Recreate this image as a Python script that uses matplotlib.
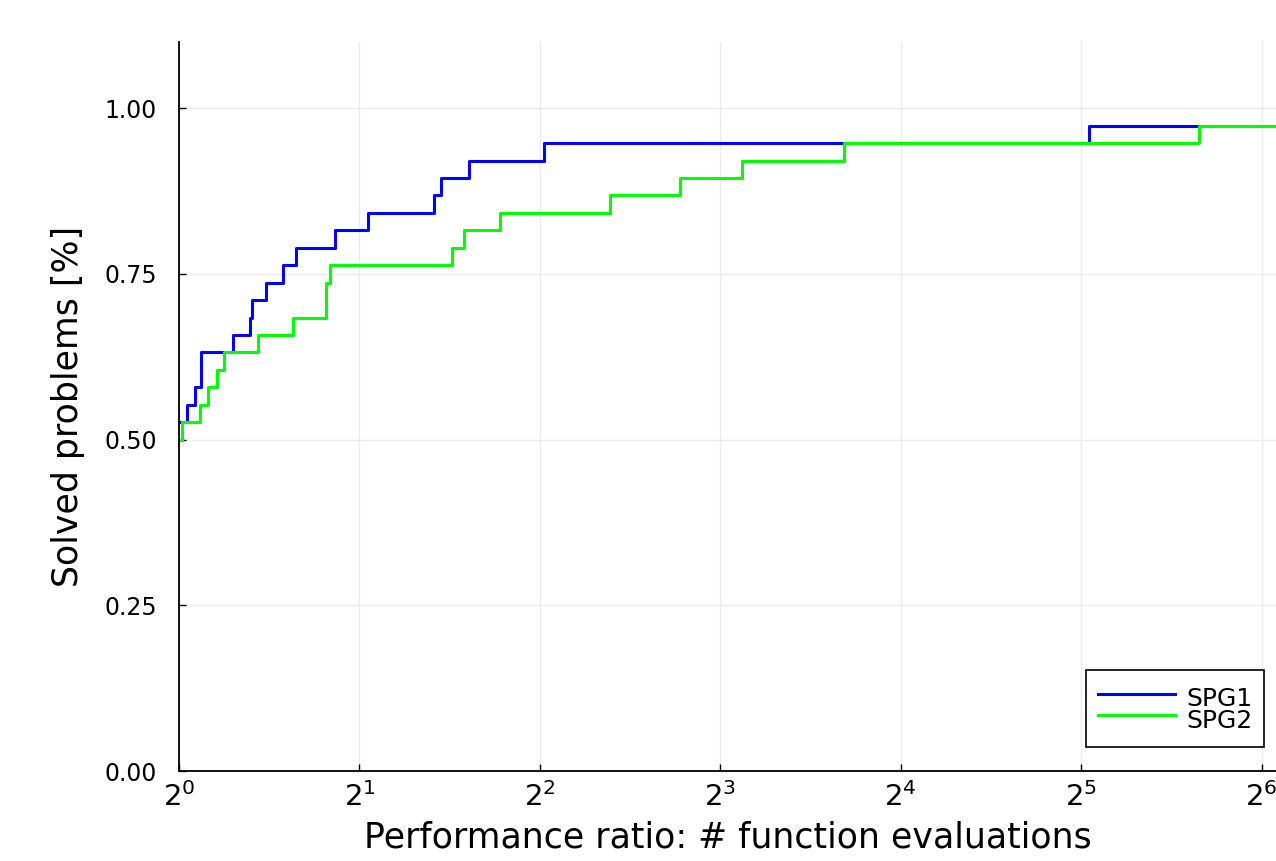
import matplotlib
matplotlib.use("Agg")
import matplotlib.pyplot as plt

# Performance profile data (ratio where each step happens, solved fraction after it)
n_problems = 38
spg1_ratio = [1.0, 1.031, 1.063, 1.088, 1.230, 1.316, 1.326, 1.397, 1.491, 1.567,
              1.821, 2.070, 2.663, 2.735, 3.046, 4.062, 32.94]
spg1_solved = [20, 21, 22, 24, 25, 26, 27, 28, 29, 30, 31, 32, 33, 34, 35, 36, 37]

spg2_ratio = [1.0, 1.010, 1.086, 1.118, 1.157, 1.189, 1.357, 1.549, 1.759, 1.786,
              2.853, 2.988, 3.431, 5.233, 6.848, 8.688, 12.88, 50.25]
spg2_solved = [19, 20, 21, 22, 23, 24, 25, 26, 28, 29, 30, 31, 32, 33, 34, 35, 36, 37]

x_max = 2 ** 6.08
y_ticks = [0.0, 0.25, 0.5, 0.75, 1.0]
x_ticks = [2 ** k for k in range(7)]
x_ticklabels = [r"$2^{%d}$" % k for k in range(7)]

fig = plt.figure(figsize=(12.76, 8.61), dpi=100)
ax = fig.add_axes([0.1403, 0.1045, 0.8597, 0.8467])

for ratio, solved, color, label in [(spg1_ratio, spg1_solved, "#0000ff", "SPG1"),
                                    (spg2_ratio, spg2_solved, "#00ff00", "SPG2")]:
    xs = ratio + [x_max]
    ys = [s / n_problems for s in solved] + [solved[-1] / n_problems]
    ax.step(xs, ys, where="post", color=color, linewidth=2.2, label=label)

ax.set_xscale("log", base=2)
ax.set_xlim(1, x_max)
ax.set_ylim(0, 1.1)
ax.set_xticks(x_ticks)
ax.set_xticklabels(x_ticklabels)
ax.minorticks_off()
ax.set_yticks(y_ticks)
ax.set_yticklabels(["%.2f" % v for v in y_ticks])

ax.grid(True, color="#ebebeb", linewidth=1)
ax.set_axisbelow(True)
for side in ["top", "right"]:
    ax.spines[side].set_visible(False)
for side in ["left", "bottom"]:
    ax.spines[side].set_linewidth(1.3)
ax.tick_params(direction="in", length=5, width=1, labelsize=17)
ax.tick_params(axis="y", pad=16)
ax.tick_params(axis="x", labelsize=21, pad=8)

ax.set_xlabel("Performance ratio: # function evaluations", fontsize=25, labelpad=6)
ax.set_ylabel("Solved problems [%]", fontsize=25, labelpad=14)

leg = ax.legend(loc="lower right", fontsize=18, fancybox=False, edgecolor="black",
                framealpha=1, handlelength=3.1, borderpad=0.45, labelspacing=-0.42,
                handleheight=1.62, handletextpad=0.45, borderaxespad=0,
                bbox_to_anchor=(0.989, 0.033))
leg.get_frame().set_linewidth(1.2)

fig.savefig("out.png", dpi=100)
